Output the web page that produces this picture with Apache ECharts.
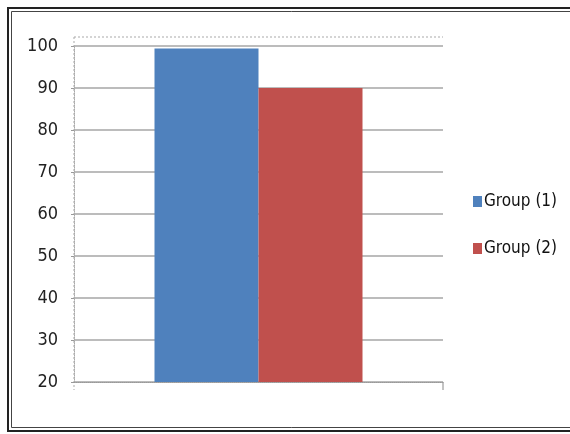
<!DOCTYPE html>
<html>
<head>
<meta charset="utf-8">
<script src="https://cdn.jsdelivr.net/npm/echarts@6/dist/echarts.min.js"></script>
<style>
html,body{margin:0;padding:0;background:#fff;}
#c{width:570px;height:434px;}
</style>
</head>
<body>
<div id="c"></div>
<script>
var categories = [''];
var seriesNames = ['Group (1)', 'Group (2)'];
var group1 = [99.4];
var group2 = [90];
var yMin = 20, yMax = 100, yStep = 10;

var chart = echarts.init(document.getElementById('c'), null, {renderer: 'canvas'});
var font = '"Liberation Sans Narrow", "DejaVu Sans Condensed", "Liberation Sans", sans-serif';
chart.setOption({
  animation: false,
  backgroundColor: '#fff',
  grid: {left: 74, right: 127, top: 46, bottom: 52, containLabel: false},
  legend: {
    orient: 'vertical', left: 468, top: 188,
    itemWidth: 9, itemHeight: 11, itemGap: 30,
    icon: 'rect',
    textStyle: {fontFamily: font, fontSize: 17, color: '#111', padding: [0,0,0,-3]},
    data: seriesNames
  },
  xAxis: {
    type: 'category', data: categories,
    axisLine: {show: true, lineStyle: {color: '#999', type: 'dotted', width: 1}},
    axisTick: {show: false},
    axisLabel: {show: false},
    splitLine: {show: false}
  },
  yAxis: {
    type: 'value', min: yMin, max: yMax, interval: yStep,
    axisLine: {show: true, lineStyle: {color: '#aaa', type: 'dotted', width: 1}},
    axisTick: {show: true, length: 3, lineStyle: {color: '#999'}},
    axisLabel: {fontFamily: font, fontSize: 18, color: '#222', margin: 16},
    splitLine: {show: true, lineStyle: {color: '#a6a6a6', width: 1.5}}
  },
  series: [
    {name: seriesNames[0], type: 'bar', data: group1, barWidth: 104, barGap: '0%',
     itemStyle: {color: '#4f81bd'}},
    {name: seriesNames[1], type: 'bar', data: group2, barWidth: 104, barGap: '0%',
     itemStyle: {color: '#c0504d'}}
  ],
  graphic: [
    {type: 'rect', shape: {x: 8, y: 8, width: 580, height: 423},
     style: {fill: null, stroke: '#222', lineWidth: 2}, silent: true},
    {type: 'rect', shape: {x: 11.5, y: 11.5, width: 580, height: 416},
     style: {fill: null, stroke: '#444', lineWidth: 1}, silent: true},
    {type: 'line', shape: {x1: 74, y1: 37, x2: 443, y2: 37},
     style: {stroke: '#aaa', lineWidth: 1, lineDash: [2, 2]}, silent: true},
    {type: 'line', shape: {x1: 74, y1: 37, x2: 74, y2: 390},
     style: {stroke: '#aaa', lineWidth: 1, lineDash: [2, 2]}, silent: true},
    {type: 'line', shape: {x1: 443, y1: 382, x2: 443, y2: 390},
     style: {stroke: '#888', lineWidth: 1}, silent: true}
  ]
});
</script>
</body>
</html>
